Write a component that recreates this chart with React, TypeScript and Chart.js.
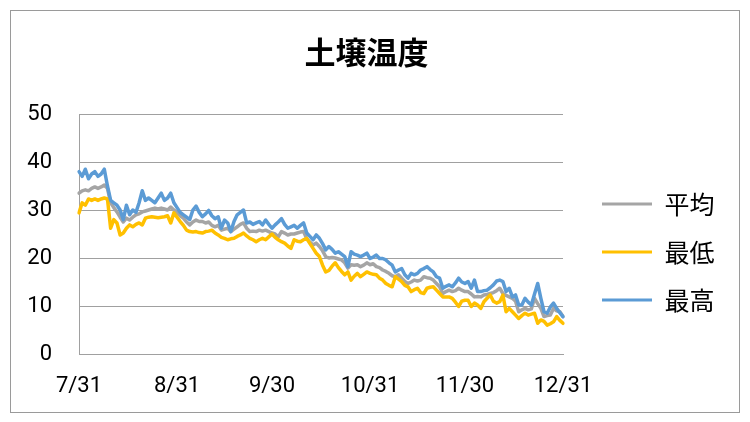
import React, { useEffect, useRef } from 'react';
import { Chart, registerables } from 'chart.js';

Chart.register(...registerables);

const TITLE = '土壌温度';
const SERIES_NAMES = ['平均', '最低', '最高'];
const SERIES_COLORS = ['#A5A5A5', '#FFC000', '#5B9BD5'];
const MONTHS = [7, 8, 9, 10, 11, 12];
const MONTH_LENGTHS = [31, 31, 30, 31, 30, 31];
const START_DAY = 31;
const TICK_LABELS = ['7/31', '8/31', '9/30', '10/31', '11/30', '12/31'];
const Y_TICKS = [0, 10, 20, 30, 40, 50];

function buildCategories(): string[] {
  const out: string[] = [];
  MONTHS.forEach((m, i) => {
    const first = i === 0 ? START_DAY : 1;
    for (let d = first; d <= MONTH_LENGTHS[i]; d++) out.push(`${m}/${d}`);
  });
  return out;
}
const CATEGORIES = buildCategories();

const AVG = [
  33.5, 34.0, 34.2, 34.0, 34.5, 34.8, 34.5, 34.8, 35.2, 34.5,
  31.5, 30.5, 29.6, 28.5, 27.5, 28.3, 27.9, 28.5, 29.0, 29.2,
  29.6, 29.8, 30.0, 30.2, 30.4, 30.2, 30.4, 30.2, 30.0, 30.6,
  30.0, 29.5, 28.8, 28.3, 27.5, 26.9, 27.5, 27.9, 27.6, 27.6,
  27.3, 27.5, 26.8, 26.5, 26.8, 25.8, 26.0, 26.2, 25.5, 26.0,
  26.5, 27.0, 27.3, 26.2, 25.5, 25.6, 25.5, 25.8, 25.6, 25.8,
  25.5, 25.2, 25.0, 24.4, 25.5, 25.2, 24.8, 25.0, 25.0, 25.2,
  25.4, 25.5, 24.0, 23.3, 22.7, 23.1, 22.4, 21.5, 20.3, 20.0,
  20.1, 20.0, 19.8, 19.6, 19.0, 17.9, 18.6, 18.5, 18.6, 18.2,
  18.5, 19.0, 18.6, 18.8, 18.2, 18.0, 17.5, 17.2, 16.8, 16.3,
  16.1, 16.5, 15.8, 15.1, 14.7, 15.0, 15.4, 15.2, 15.4, 16.1,
  15.9, 15.8, 15.4, 14.7, 14.0, 12.6, 13.0, 13.3, 13.0, 13.2,
  13.7, 13.3, 13.0, 13.0, 12.5, 11.9, 12.0, 11.9, 12.3, 12.4,
  12.6, 12.8, 13.2, 13.7, 12.6, 12.2, 11.9, 11.6, 11.0, 8.8,
  9.2, 9.5, 9.2, 9.4, 11.6, 10.5, 9.5, 7.8, 8.0, 8.1,
  9.5, 9.0, 8.8, 7.8,
];

const MIN = [
  29.4, 31.5, 31.0, 32.3, 32.0, 32.3, 32.0, 32.3, 32.5, 32.3,
  26.2, 28.0, 27.3, 24.8, 25.2, 26.2, 26.9, 26.5, 27.0, 27.3,
  26.9, 28.3, 28.5, 28.6, 28.5, 28.4, 28.5, 28.6, 28.8, 27.3,
  29.4, 28.5, 27.6, 26.8, 25.8, 25.5, 25.4, 25.5, 25.3, 25.2,
  25.5, 25.6, 25.8, 25.2, 24.8, 24.3, 24.1, 23.8, 24.0, 24.1,
  24.5, 24.8, 25.2, 24.6, 24.1, 23.8, 23.4, 23.8, 24.1, 23.8,
  24.4, 25.0, 24.3, 23.8, 23.4, 23.1, 22.5, 22.0, 23.8, 23.5,
  23.4, 23.8, 24.1, 23.0, 22.0, 21.0, 20.3, 18.5, 17.1, 17.4,
  18.3, 19.0, 18.0, 17.2, 16.5, 17.1, 15.4, 16.2, 16.8, 16.1,
  16.6, 17.1, 16.8, 16.6, 16.5, 15.8, 15.4, 14.7, 14.3, 14.0,
  16.1, 15.6, 15.1, 14.3, 14.0, 13.0, 13.4, 13.7, 12.8, 12.6,
  13.7, 13.9, 14.0, 13.3, 12.6, 11.9, 11.9, 11.9, 11.6, 10.8,
  9.9, 11.0, 11.2, 11.2, 9.9, 10.6, 10.2, 9.5, 10.9, 11.6,
  12.3, 11.0, 10.6, 10.9, 12.3, 8.8, 9.5, 8.8, 8.1, 7.4,
  8.0, 8.5, 8.1, 8.3, 8.5, 6.4, 7.1, 6.8, 6.0, 6.3,
  6.7, 7.8, 7.0, 6.4,
];

const MAX = [
  38.0, 37.0, 38.5, 36.5, 37.5, 38.0, 37.0, 37.5, 38.5, 35.0,
  32.0, 31.5, 31.0, 30.0, 28.0, 31.0, 29.0, 30.0, 29.5, 31.5,
  34.0, 32.0, 32.5, 32.0, 31.5, 32.5, 33.5, 32.0, 32.5, 33.5,
  31.5, 30.5, 29.5, 29.0, 28.5, 28.0, 30.0, 30.8, 29.5, 28.6,
  29.2, 29.9, 28.8, 28.2, 28.6, 26.2, 27.9, 27.3, 25.5, 27.6,
  29.0, 29.5, 30.0, 27.3, 27.5, 27.0, 27.3, 27.6, 26.9, 27.9,
  27.0, 26.2, 26.9, 27.5, 28.2, 27.0, 26.2, 26.5, 26.8, 26.2,
  26.8, 27.3, 25.2, 24.5, 23.8, 24.8, 24.1, 23.0, 21.7, 22.4,
  21.8, 21.0, 21.3, 20.8, 20.3, 18.2, 21.3, 20.8, 20.6, 20.3,
  20.6, 21.0, 19.9, 20.2, 20.6, 19.9, 19.9, 19.6, 19.0, 18.5,
  17.1, 17.5, 17.8, 16.5, 15.8, 16.8, 16.5, 16.8, 17.5, 17.8,
  18.2, 17.6, 17.1, 16.1, 15.8, 13.7, 14.1, 14.4, 14.0, 14.8,
  15.8, 15.0, 14.7, 15.1, 13.7, 15.4, 13.0, 13.0, 13.2, 13.3,
  13.8, 14.4, 15.2, 15.4, 15.1, 13.0, 13.7, 11.9, 12.3, 10.2,
  10.2, 11.6, 10.8, 10.2, 12.5, 14.7, 11.6, 8.8, 8.5, 9.8,
  10.6, 9.5, 8.6, 7.8,
];

const SERIES_VALUES = [AVG, MIN, MAX];
const DRAW_ORDER = [2, 1, 0];

const FONT_NUM = "Roboto, 'Noto Sans CJK JP', sans-serif";
const FONT_CJK = "'Noto Sans CJK JP', sans-serif";
const AXIS_GRAY = '#a0a0a0';

const framePlugin = {
  id: 'frame',
  beforeDraw(chart: any) {
    const ctx = chart.ctx;
    ctx.save();
    ctx.fillStyle = '#ffffff';
    ctx.fillRect(0, 0, chart.width, chart.height);
    ctx.strokeStyle = '#9a9a9a';
    ctx.lineWidth = 1;
    ctx.strokeRect(10.5, 10.5, 729, 402);
    ctx.restore();
  },
};

export default function App() {
  const ref = useRef<HTMLCanvasElement>(null);

  useEffect(() => {
    document.body.style.margin = '0';
    const canvas = ref.current;
    if (!canvas) return;
    const chart = new Chart(canvas, {
      type: 'line',
      data: {
        labels: CATEGORIES,
        datasets: SERIES_NAMES.map((name, i) => ({
          label: name,
          data: SERIES_VALUES[i],
          borderColor: SERIES_COLORS[i],
          backgroundColor: SERIES_COLORS[i],
          borderWidth: 3.5,
          pointRadius: 0,
          pointHoverRadius: 0,
          tension: 0,
          fill: false,
          borderJoinStyle: 'round' as const,
          borderCapStyle: 'round' as const,
          order: DRAW_ORDER[i],
          yAxisID: 'y',
          xAxisID: 'x',
        })),
      },
      plugins: [framePlugin],
      options: {
        responsive: false,
        animation: false,
        events: [],
        layout: { padding: { left: 10, right: 27, top: 10, bottom: 10 } },
        plugins: {
          title: {
            display: true,
            text: TITLE,
            color: '#000',
            font: { family: FONT_CJK, size: 31, weight: 'bold' },
            padding: { top: 24, bottom: 42.8 },
          },
          legend: {
            position: 'right',
            fullSize: false,
            align: 'center',
            maxWidth: 144,
            title: { display: true, text: ' ', padding: 0, font: { size: 30 } },
            labels: {
              boxWidth: 50,
              boxHeight: 3,
              padding: 23,
              color: '#000',
              font: { family: FONT_CJK, size: 25 },
              sort: (a: any, b: any) => a.datasetIndex - b.datasetIndex,
              generateLabels: (c: any) =>
                (Chart.defaults.plugins.legend.labels as any)
                  .generateLabels(c)
                  .map((it: any) => ({ ...it, lineWidth: 0, fillStyle: it.strokeStyle })),
            },
          },
          tooltip: { enabled: false },
        },
        scales: {
          x: {
            type: 'category',
            offset: false,
            grid: { display: false, drawTicks: false },
            border: { display: true, color: AXIS_GRAY, width: 1 },
            ticks: {
              autoSkip: false,
              maxRotation: 0,
              minRotation: 0,
              padding: 19.5,
              color: '#000',
              font: { family: FONT_NUM, size: 22 },
              callback: (_v: any, i: number) => {
                const l = CATEGORIES[i];
                return TICK_LABELS.includes(l) ? l : '';
              },
            },
            afterFit: (s: any) => {
              s.height = 58;
            },
          },
          y: {
            type: 'linear',
            position: 'left',
            min: Y_TICKS[0],
            max: Y_TICKS[Y_TICKS.length - 1],
            afterBuildTicks: (s: any) => {
              s.ticks = Y_TICKS.map((v) => ({ value: v }));
            },
            grid: { color: AXIS_GRAY, drawTicks: false, lineWidth: 1 },
            border: { display: true, color: AXIS_GRAY, width: 1 },
            ticks: {
              padding: 27,
              color: '#000',
              font: { family: FONT_NUM, size: 22 },
            },
            afterFit: (s: any) => {
              s.width = 69;
            },
          },
          gap: {
            type: 'linear',
            position: 'right',
            display: true,
            grid: { display: false, drawTicks: false },
            border: { display: false },
            ticks: { display: false },
            afterFit: (s: any) => {
              s.width = 16;
            },
          },
        },
      } as any,
    });
    return () => chart.destroy();
  }, []);

  return (
    <div style={{ width: 750, height: 422 }}>
      <canvas ref={ref} width={750} height={422} style={{ display: 'block' }} />
    </div>
  );
}
